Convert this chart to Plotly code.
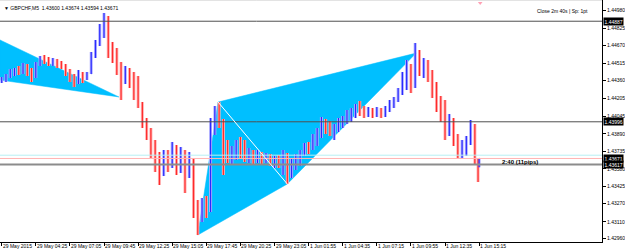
import plotly.graph_objects as go

# ---------------- data ----------------
symbol_title = "GBPCHF,M5  1.43600 1.43674 1.43594 1.43671"
timer_text = "Close 2m 40s | Sp: 1pt"
countdown_text = "2:40 (11pips)"

bar_index = [0, 4, 8, 12, 16, 20, 24, 28, 32, 36, 40, 44, 48, 52, 56, 60, 64, 68, 72, 76,
             80, 84, 88, 92, 96, 100, 104, 108, 112, 116, 120, 124, 128, 132, 136, 140, 144, 148, 152, 156,
             160, 164, 168, 172, 176, 180, 184, 188, 192, 196, 200, 204, 208, 212, 216, 220, 224, 228, 232, 236,
             240, 244, 248, 252, 256, 260, 264, 268, 272, 276, 280, 284, 288, 292, 296, 300, 304, 308, 312, 316,
             320, 324, 328, 332, 336, 340, 344, 348, 352, 356, 360, 364, 368, 372, 376, 380, 384, 388, 392, 396,
             400, 404, 408, 412, 416, 420, 424, 428, 432, 436, 440, 444, 447, 448]

opens = [1.44366, 1.44366, 1.44402, 1.44437, 1.44455, 1.44428, 1.44490, 1.44437, 1.44384, 1.44508,
         1.44561, 1.44543, 1.44526, 1.44543, 1.44508, 1.44490, 1.44437, 1.44384, 1.44331, 1.44419,
         1.44384, 1.44419, 1.44579, 1.44685, 1.44827, 1.44916, 1.44632, 1.44588, 1.44455, 1.44366,
         1.44437, 1.44348, 1.44278, 1.44154, 1.43976, 1.43888, 1.43746, 1.43613, 1.43525, 1.43675,
         1.43613, 1.43764, 1.43587, 1.43702, 1.43569, 1.43657, 1.43215, 1.43170, 1.43259, 1.43197,
         1.43967, 1.44083, 1.44012, 1.43746, 1.43702, 1.43746, 1.43790, 1.43746, 1.43702, 1.43728,
         1.43675, 1.43702, 1.43657, 1.43693, 1.43640, 1.43657, 1.43613, 1.43675, 1.43516, 1.43613,
         1.43675, 1.43728, 1.43781, 1.43764, 1.43852, 1.43905, 1.43994, 1.43941, 1.43923, 1.43959,
         1.43994, 1.44012, 1.44065, 1.44083, 1.44118, 1.44100, 1.44083, 1.44100, 1.44065, 1.44100,
         1.44065, 1.44100, 1.44154, 1.44189, 1.44260, 1.44384, 1.44490, 1.44322, 1.44614, 1.44472,
         1.44526, 1.44419, 1.44278, 1.44154, 1.44065, 1.43941, 1.43994, 1.43852, 1.43746, 1.43781,
         1.43835, 1.43959, 1.43657, 1.43600]

highs = [1.44393, 1.44419, 1.44464, 1.44472, 1.44490, 1.44517, 1.44508, 1.44472, 1.44526, 1.44579,
         1.44588, 1.44570, 1.44561, 1.44552, 1.44535, 1.44508, 1.44464, 1.44419, 1.44455, 1.44437,
         1.44437, 1.44614, 1.44721, 1.44862, 1.44960, 1.44933, 1.44703, 1.44650, 1.44526, 1.44490,
         1.44472, 1.44437, 1.44402, 1.44171, 1.44030, 1.43941, 1.43835, 1.43728, 1.43746, 1.43746,
         1.43817, 1.43790, 1.43773, 1.43746, 1.43728, 1.43675, 1.43303, 1.43321, 1.43339, 1.44030,
         1.44136, 1.44171, 1.44021, 1.43835, 1.43781, 1.43835, 1.43861, 1.43835, 1.43764, 1.43746,
         1.43746, 1.43728, 1.43719, 1.43711, 1.43693, 1.43702, 1.43746, 1.43719, 1.43675, 1.43711,
         1.43746, 1.43808, 1.43817, 1.43888, 1.43941, 1.44038, 1.44021, 1.44003, 1.43976, 1.44030,
         1.44047, 1.44100, 1.44118, 1.44154, 1.44180, 1.44136, 1.44127, 1.44118, 1.44127, 1.44118,
         1.44136, 1.44189, 1.44216, 1.44295, 1.44437, 1.44543, 1.44508, 1.44694, 1.44632, 1.44561,
         1.44543, 1.44455, 1.44348, 1.44224, 1.44189, 1.44065, 1.44030, 1.43888, 1.43835, 1.43870,
         1.44012, 1.43976, 1.43675, 1.43674]

lows = [1.44340, 1.44348, 1.44384, 1.44402, 1.44411, 1.44419, 1.44402, 1.44348, 1.44384, 1.44490,
        1.44508, 1.44490, 1.44490, 1.44472, 1.44464, 1.44402, 1.44348, 1.44304, 1.44331, 1.44340,
        1.44366, 1.44419, 1.44561, 1.44667, 1.44738, 1.44561, 1.44517, 1.44411, 1.44189, 1.44331,
        1.44295, 1.44189, 1.44118, 1.43941, 1.43835, 1.43675, 1.43551, 1.43436, 1.43516, 1.43551,
        1.43587, 1.43525, 1.43542, 1.43365, 1.43498, 1.43144, 1.42993, 1.43108, 1.43144, 1.43197,
        1.43879, 1.43941, 1.43525, 1.43631, 1.43622, 1.43657, 1.43675, 1.43640, 1.43631, 1.43622,
        1.43631, 1.43622, 1.43631, 1.43604, 1.43587, 1.43587, 1.43525, 1.43445, 1.43498, 1.43569,
        1.43604, 1.43693, 1.43711, 1.43746, 1.43781, 1.43852, 1.43888, 1.43870, 1.43835, 1.43905,
        1.43941, 1.43976, 1.43994, 1.44030, 1.44047, 1.44030, 1.44038, 1.44030, 1.44038, 1.44030,
        1.44038, 1.44083, 1.44118, 1.44171, 1.44233, 1.44278, 1.44251, 1.44295, 1.44402, 1.44384,
        1.44348, 1.44207, 1.44083, 1.43994, 1.43835, 1.43870, 1.43781, 1.43675, 1.43675, 1.43693,
        1.43790, 1.43613, 1.43463, 1.43594]

closes = [1.44375, 1.44402, 1.44437, 1.44455, 1.44428, 1.44490, 1.44437, 1.44384, 1.44508, 1.44561,
          1.44543, 1.44526, 1.44543, 1.44508, 1.44490, 1.44437, 1.44384, 1.44331, 1.44419, 1.44384,
          1.44419, 1.44579, 1.44685, 1.44827, 1.44916, 1.44632, 1.44588, 1.44455, 1.44366, 1.44437,
          1.44348, 1.44278, 1.44154, 1.43976, 1.43888, 1.43746, 1.43613, 1.43525, 1.43675, 1.43613,
          1.43764, 1.43587, 1.43702, 1.43569, 1.43657, 1.43215, 1.43170, 1.43259, 1.43197, 1.43967,
          1.44083, 1.44012, 1.43746, 1.43702, 1.43746, 1.43790, 1.43746, 1.43702, 1.43728, 1.43675,
          1.43702, 1.43657, 1.43693, 1.43640, 1.43657, 1.43613, 1.43675, 1.43516, 1.43613, 1.43675,
          1.43728, 1.43781, 1.43764, 1.43852, 1.43905, 1.43994, 1.43941, 1.43923, 1.43959, 1.43994,
          1.44012, 1.44065, 1.44083, 1.44118, 1.44100, 1.44083, 1.44100, 1.44065, 1.44100, 1.44065,
          1.44100, 1.44154, 1.44189, 1.44260, 1.44384, 1.44490, 1.44322, 1.44614, 1.44472, 1.44526,
          1.44419, 1.44278, 1.44154, 1.44065, 1.43941, 1.43994, 1.43852, 1.43746, 1.43781, 1.43835,
          1.43959, 1.43657, 1.43622, 1.43671]

time_tick_index = [0, 32, 64, 96, 128, 160, 192, 224, 256, 288, 320, 352, 384, 416, 448]
time_tick_labels = ["29 May 2015", "29 May 04:25", "29 May 07:05", "29 May 09:45", "29 May 12:25",
                    "29 May 15:05", "29 May 17:45", "29 May 20:25", "29 May 23:05", "1 Jun 01:55",
                    "1 Jun 04:35", "1 Jun 07:15", "1 Jun 09:55", "1 Jun 12:35", "1 Jun 15:15"]

price_ticks = [1.44980, 1.44825, 1.44670, 1.44515, 1.44360, 1.44205, 1.44045,
               1.43890, 1.43735, 1.43580, 1.43425, 1.43270, 1.43110, 1.42960]
price_tick_labels = ["1.44980", "1.44825", "1.44670", "1.44515", "1.44360", "1.44205", "1.44045",
                     "1.43890", "1.43735", "1.43580", "1.43425", "1.43270", "1.43110", "1.42960"]

level_prices = [1.44887, 1.43996]      # dark horizontal lines
stop_level = 1.43617                   # thick grey line
bid_price = 1.43671                    # bid line
cyan_level = 1.43700                   # light cyan line
marked_labels = [("1.44887", 1.44887), ("1.43996", 1.43996), ("1.43671", 1.43671), ("1.43617", 1.43617)]

# pattern points X, A, B, C
pattern_idx = [184, 203, 268, 389]
pattern_price = [1.42993, 1.44171, 1.43445, 1.44605]
# left partial triangle
left_tri_idx = [-1.6, 110, -1.6]
left_tri_price = [1.44721, 1.44216, 1.44366]
# small arrow object near the top
arrow_idx = [449]
arrow_price = [1.45048]

x_range = [-1.6, 563.3]
y_range = [1.42931, 1.45075]

FONT = "Liberation Sans"
FILL = "#00BFFF"

fig = go.Figure()

# light wide bars (background layer)
fig.add_trace(go.Ohlc(x=bar_index, open=opens, high=highs, low=lows, close=closes,
                      increasing=dict(line=dict(color="#B0B0FF", width=3)),
                      decreasing=dict(line=dict(color="#FFB0B0", width=3)),
                      tickwidth=0.1, hoverinfo="skip", showlegend=False))
# thin saturated bars
fig.add_trace(go.Ohlc(x=bar_index, open=opens, high=highs, low=lows, close=closes,
                      increasing=dict(line=dict(color="#2A2AFF", width=1.2)),
                      decreasing=dict(line=dict(color="#FF2A2A", width=1.2)),
                      tickwidth=0.1, hoverinfo="skip", showlegend=False))
fig.add_trace(go.Scatter(x=arrow_idx, y=arrow_price, mode="markers", cliponaxis=False,
                         marker=dict(symbol="triangle-down", size=4, color="#FFA0B4"),
                         hoverinfo="skip", showlegend=False))


def tri_path(xs, ys):
    return "M {},{} L {},{} L {},{} Z".format(xs[0], ys[0], xs[1], ys[1], xs[2], ys[2])


shapes = []
# filled triangles drawn beneath the bars
shapes.append(dict(type="path", xref="x", yref="y", path=tri_path(left_tri_idx, left_tri_price),
                   fillcolor=FILL, line=dict(color=FILL, width=0.5), layer="below"))
X, A, B, C = range(4)
for tri in [(X, A, B), (A, B, C)]:
    shapes.append(dict(type="path", xref="x", yref="y",
                       path=tri_path([pattern_idx[i] for i in tri], [pattern_price[i] for i in tri]),
                       fillcolor=FILL, line=dict(color=FILL, width=0.5), layer="below"))

for lv in level_prices:
    shapes.append(dict(type="line", xref="paper", x0=0, x1=1, yref="y", y0=lv, y1=lv,
                       line=dict(color="#505050", width=1), layer="above"))
shapes.append(dict(type="line", xref="paper", x0=0, x1=1, yref="y", y0=stop_level, y1=stop_level,
                   line=dict(color="#8C8C8C", width=2), layer="above"))
shapes.append(dict(type="line", xref="paper", x0=0, x1=1, yref="y", y0=cyan_level, y1=cyan_level,
                   line=dict(color="#B8F0F4", width=1), layer="above"))
shapes.append(dict(type="line", xref="paper", x0=0, x1=1, yref="y", y0=bid_price, y1=bid_price,
                   line=dict(color="#FFB4B4", width=1), layer="above"))
# white A-B diagonal
shapes.append(dict(type="line", xref="x", yref="y", x0=pattern_idx[A], y0=pattern_price[A],
                   x1=pattern_idx[B], y1=pattern_price[B], line=dict(color="white", width=1), layer="above"))
# top frame line
shapes.append(dict(type="line", xref="paper", yref="paper", x0=0, x1=1, y0=1, y1=1,
                   line=dict(color="#C8C8C8", width=1), layer="above"))

annotations = []
for txt, pr in marked_labels:
    annotations.append(dict(xref="paper", x=1, xanchor="left", xshift=1, yref="y", y=pr, yanchor="middle",
                            text=txt, showarrow=False, bgcolor="black", borderpad=0.5,
                            font=dict(family=FONT, size=5, color="white")))
for idx, lab in zip(time_tick_index, time_tick_labels):
    annotations.append(dict(xref="x", yref="paper", x=idx, y=0, xanchor="left", yanchor="top",
                            xshift=0, yshift=0, text=lab, showarrow=False, borderpad=0,
                            font=dict(family=FONT, size=5, color="black")))
annotations.append(dict(xref="paper", yref="paper", x=0, y=1, xanchor="left", yanchor="top",
                        xshift=2, yshift=-3, text="\u25bc " + symbol_title, showarrow=False,
                        font=dict(family=FONT, size=5, color="black")))
annotations.append(dict(xref="paper", yref="paper", x=1, y=1, xanchor="right", yanchor="top",
                        xshift=-12, yshift=-6, text=timer_text, showarrow=False,
                        font=dict(family=FONT, size=5, color="black")))
annotations.append(dict(xref="x", yref="y", x=467.5, y=1.43636, xanchor="left", yanchor="middle",
                        text="<b>" + countdown_text + "</b>", showarrow=False,
                        font=dict(family=FONT, size=6, color="black")))

fig.update_layout(
    width=625, height=250,
    margin=dict(l=0, r=23, t=0, b=8),
    paper_bgcolor="white", plot_bgcolor="white",
    showlegend=False,
    shapes=shapes, annotations=annotations,
    xaxis=dict(range=x_range, showgrid=False, zeroline=False, rangeslider=dict(visible=False),
               tickmode="array", tickvals=time_tick_index, ticktext=time_tick_labels,
               showticklabels=False,
               ticks="outside", ticklen=3, tickcolor="black",
               showline=True, linecolor="black", linewidth=1, automargin=False, fixedrange=True),
    yaxis=dict(range=y_range, side="right", showgrid=False, zeroline=False,
               tickmode="array", tickvals=price_ticks, ticktext=price_tick_labels,
               ticks="outside", ticklen=3, tickcolor="black",
               tickfont=dict(family=FONT, size=5, color="black"),
               showline=True, linecolor="black", linewidth=1, automargin=False, fixedrange=True),
)

fig.write_html("out.html")
